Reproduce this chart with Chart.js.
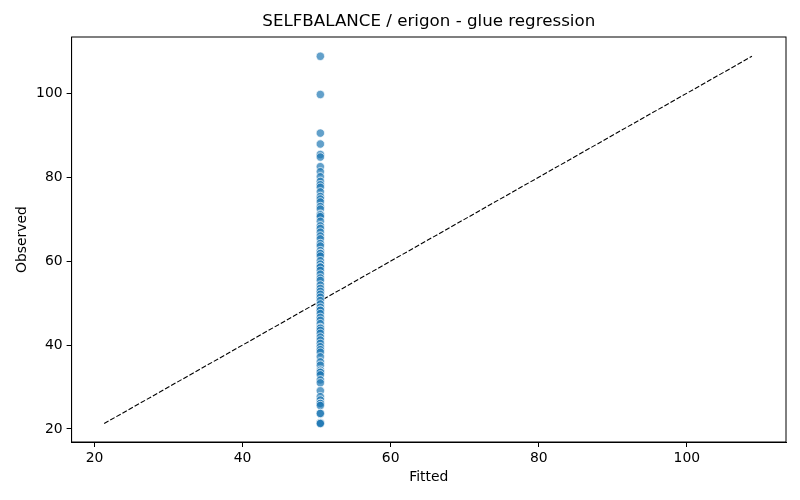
<!DOCTYPE html>
<html>
<head>
<meta charset="utf-8">
<script src="https://cdn.jsdelivr.net/npm/chart.js@4/dist/chart.umd.min.js"></script>
<style>
  html, body { margin: 0; padding: 0; background: #fff; }
  canvas { display: block; }
</style>
</head>
<body>
<canvas id="fitChart" width="800" height="500"></canvas>
<script>
// observed values, all points share the same fitted value
const fittedValue = 50.5;
const observed = [
    108.8, 99.7, 90.5, 87.9, 85.4, 84.8, 82.5, 81.3, 80.1, 79.0,
    78.2, 77.6, 76.5, 75.4, 74.8, 74.1, 73.0, 72.4, 71.2, 71.0,
    70.6, 69.5, 68.4, 67.8, 66.9, 66.0, 65.3, 64.2, 63.6, 62.5,
    61.9, 61.8, 61.2, 60.1, 59.3, 58.6, 58.6, 57.8, 56.9, 56.0,
    55.4, 54.3, 53.5, 52.8, 52.1, 51.4, 50.6, 49.8, 49.0, 48.3,
    48.3, 47.5, 46.6, 45.9, 45.1, 44.2, 44.0, 43.5, 42.8, 41.9,
    41.2, 40.4, 39.6, 38.9, 38.3, 37.2, 36.0, 35.2, 34.0, 33.6,
    33.5, 32.9, 31.7, 31.0, 29.1, 27.7, 26.9, 26.1, 26.1, 25.6,
    23.7, 23.7, 21.5, 21.4, 21.3
];
const refLine = [21.3, 108.8];
const tickValues = [20, 40, 60, 80, 100];
const axisRange = [16.9, 113.4];
const chartTitle = 'SELFBALANCE / erigon - glue regression';

const points = observed.map(v => ({x: fittedValue, y: v}));
const linePts = refLine.map(v => ({x: v, y: v}));

// box around the plot + title centred over the axes (like matplotlib)
const frame = {
    id: 'frame',
    afterDatasetsDraw(chart) {
        const a = chart.chartArea, c = chart.ctx;
        c.save();
        c.strokeStyle = '#000';
        c.lineWidth = 1;
        c.strokeRect(a.left, a.top, a.right - a.left, a.bottom - a.top);
        c.fillStyle = '#000';
        c.font = '16.7px "DejaVu Sans"';
        c.textAlign = 'center';
        c.textBaseline = 'middle';
        c.fillText(chartTitle, (a.left + a.right) / 2, 22);
        c.restore();
    }
};

const tickFont = {family: 'DejaVu Sans', size: 13.9};

const ctx = document.getElementById('fitChart').getContext('2d');
const fitChart = new Chart(ctx, {
    type: 'scatter',
    data: {
        datasets: [{
            label: 'points',
            data: points,
            pointRadius: 4.2,
            pointHoverRadius: 4.2,
            backgroundColor: 'rgba(31,119,180,0.7)',
            borderColor: 'rgba(255,255,255,0.9)',
            borderWidth: 0.75
        }, {
            type: 'line',
            label: 'ref',
            data: linePts,
            borderColor: '#000',
            borderWidth: 1.1,
            borderDash: [5, 2],
            pointRadius: 0,
            fill: false
        }]
    },
    options: {
        responsive: false,
        animation: false,
        devicePixelRatio: 1,
        layout: {padding: {left: 0, right: 14, top: 37, bottom: 0}},
        plugins: {
            legend: {display: false},
            tooltip: {enabled: false},
            title: {display: false}
        },
        scales: {
            x: {
                type: 'linear',
                min: axisRange[0],
                max: axisRange[1],
                afterBuildTicks: axis => { axis.ticks = tickValues.map(v => ({value: v})); },
                afterFit: axis => { axis.height = 58; },
                grid: {display: true, drawOnChartArea: false, drawTicks: true, tickLength: 5, color: '#000'},
                border: {display: true, color: '#000'},
                ticks: {color: '#000', font: tickFont, padding: 3, maxRotation: 0},
                title: {display: true, text: 'Fitted', color: '#000', font: tickFont, padding: {top: 2, bottom: 14}}
            },
            y: {
                type: 'linear',
                min: axisRange[0],
                max: axisRange[1],
                afterBuildTicks: axis => { axis.ticks = tickValues.map(v => ({value: v})); },
                afterFit: axis => { axis.width = 71.6; },
                grid: {display: true, drawOnChartArea: false, drawTicks: true, tickLength: 5, color: '#000'},
                border: {display: true, color: '#000'},
                ticks: {color: '#000', font: tickFont, padding: 4},
                title: {display: true, text: 'Observed', color: '#000', font: tickFont, padding: {top: 14, bottom: 4}}
            }
        }
    },
    plugins: [frame]
});
</script>
</body>
</html>
